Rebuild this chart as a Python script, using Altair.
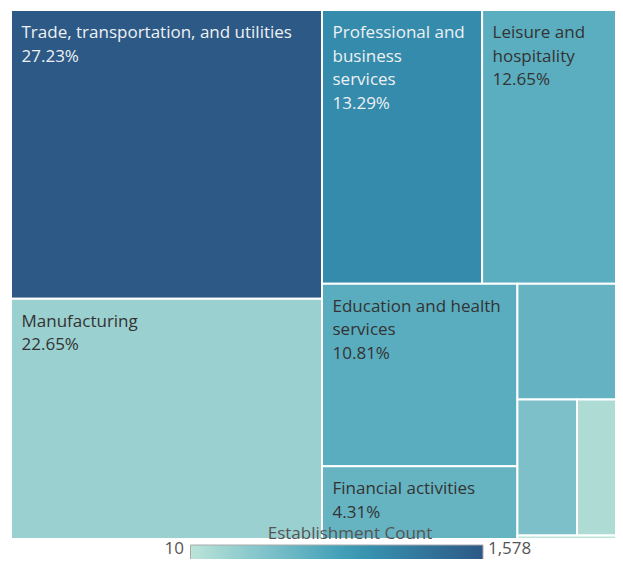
import altair as alt
import pandas as pd

# ---------------- data ----------------
sectors = [
    "Trade, transportation, and utilities",
    "Manufacturing",
    "Professional and business services",
    "Leisure and hospitality",
    "Education and health services",
    "Financial activities",
    "Construction",
    "Other services",
    "Information",
    "Natural resources and mining",
]
label_text = [
    "Trade, transportation, and utilities",
    "Manufacturing",
    "Professional and\nbusiness\nservices",
    "Leisure and\nhospitality",
    "Education and health\nservices",
    "Financial activities",
    "",
    "",
    "",
    "",
]
share_pct = [27.23, 22.65, 13.29, 12.65, 10.81, 4.31, 4.11, 2.46, 2.37, 0.12]
establishments = [1578, 230, 1030, 660, 668, 588, 600, 433, 98, 10]

legend_title = "Establishment Count"
palette = ["#bce4d8", "#9dd3d1", "#81c3cb", "#65b3c2", "#45a2b9",
           "#368fae", "#347da0", "#306a93", "#2c5985"]

# ---------------- treemap layout (computed from the shares) ----------------
BOX_W, BOX_H = 623.5, 529.0


def treemap(values, x, y, w, h, limit=3.0):
    scale = w * h / sum(values)
    areas = [v * scale for v in values]
    out = []
    i = 0
    while i < len(areas):
        vertical = w >= h
        side = h if vertical else w

        def worst(row):
            thick = sum(row) / side
            return max(max(thick / (a / thick), (a / thick) / thick) for a in row)

        row = [areas[i]]
        j = i + 1
        while j < len(areas):
            cand = row + [areas[j]]
            if worst(cand) <= max(worst(row), limit):
                row = cand
                j += 1
            else:
                break
        thick = sum(row) / side
        pos = 0.0
        for a in row:
            length = a / thick
            if vertical:
                out.append((x, y + pos, x + thick, y + pos + length))
            else:
                out.append((x + pos, y, x + pos + length, y + thick))
            pos += length
        if vertical:
            x += thick
            w -= thick
        else:
            y += thick
            h -= thick
        i = j
    return out


rects = treemap(share_pct, 0.0, 0.0, BOX_W, BOX_H)

df = pd.DataFrame({
    "sector": sectors,
    "share": share_pct,
    "count": establishments,
    "x0": [r[0] for r in rects],
    "y0": [r[1] for r in rects],
    "x1": [r[2] for r in rects],
    "y1": [r[3] for r in rects],
})
df["label"] = [
    (lab + "\n" + f"{p:.2f}%") if lab else ""
    for lab, p in zip(label_text, share_pct)
]

lo, hi = min(establishments), max(establishments)
legend_df = pd.DataFrame({"lo": [lo], "hi": [hi]})

n = len(palette)
color_domain = [lo + (hi - lo) * k / (n - 1) for k in range(n)]

FONT = "Open Sans"

xs = alt.Scale(domain=[0, BOX_W], range=[3, 3 + BOX_W], nice=False, zero=False)
ys = alt.Scale(domain=[0, BOX_H], range=[2, 2 + BOX_H], nice=False, zero=False)

base = alt.Chart(df)

tiles = base.mark_rect(stroke="white", strokeWidth=2).encode(
    x=alt.X("x0:Q", scale=xs, axis=None),
    x2="x1:Q",
    y=alt.Y("y0:Q", scale=ys, axis=None),
    y2="y1:Q",
    color=alt.Color("count:Q",
                    scale=alt.Scale(domain=color_domain, range=palette),
                    legend=None),
    tooltip=["sector:N", "share:Q", "count:Q"],
)

labels = base.mark_text(
    align="left", baseline="top", dx=10.5, dy=15,
    font=FONT, fontSize=17, lineHeight=23.5, lineBreak="\n",
).encode(
    x=alt.X("x0:Q", scale=xs, axis=None),
    y=alt.Y("y0:Q", scale=ys, axis=None),
    text="label:N",
    color=alt.condition(alt.datum["count"] > 800,
                        alt.value("#eef1f4"), alt.value("#333333")),
)

leg = alt.Chart(legend_df)

grad = leg.mark_rect(
    fill={
        "gradient": "linear",
        "x1": 0, "x2": 1, "y1": 0, "y2": 0,
        "stops": [{"offset": k / (n - 1), "color": c} for k, c in enumerate(palette)],
    },
    stroke="#aaaaaa", strokeWidth=1,
).encode(
    x=alt.value(182.5), x2=alt.value(475),
    y=alt.value(537), y2=alt.value(570),
)

leg_title = leg.mark_text(
    text=legend_title, align="center", baseline="alphabetic",
    font=FONT, fontSize=17, color="#555555",
).encode(x=alt.value(342), y=alt.value(530.5))

leg_lo = leg.mark_text(
    align="right", baseline="alphabetic", font=FONT, fontSize=17, color="#555555",
).encode(text=alt.Text("lo:Q", format=","), x=alt.value(176), y=alt.value(546))

leg_hi = leg.mark_text(
    align="left", baseline="alphabetic", font=FONT, fontSize=17, color="#555555",
).encode(text=alt.Text("hi:Q", format=","), x=alt.value(480), y=alt.value(546))

chart = alt.layer(tiles, labels, grad, leg_title, leg_lo, leg_hi).properties(
    width=607, height=551, padding=0, autosize="none", background="white",
).configure_view(strokeWidth=0)

chart.save("out.html", embed_options={"renderer": "svg", "actions": False})
